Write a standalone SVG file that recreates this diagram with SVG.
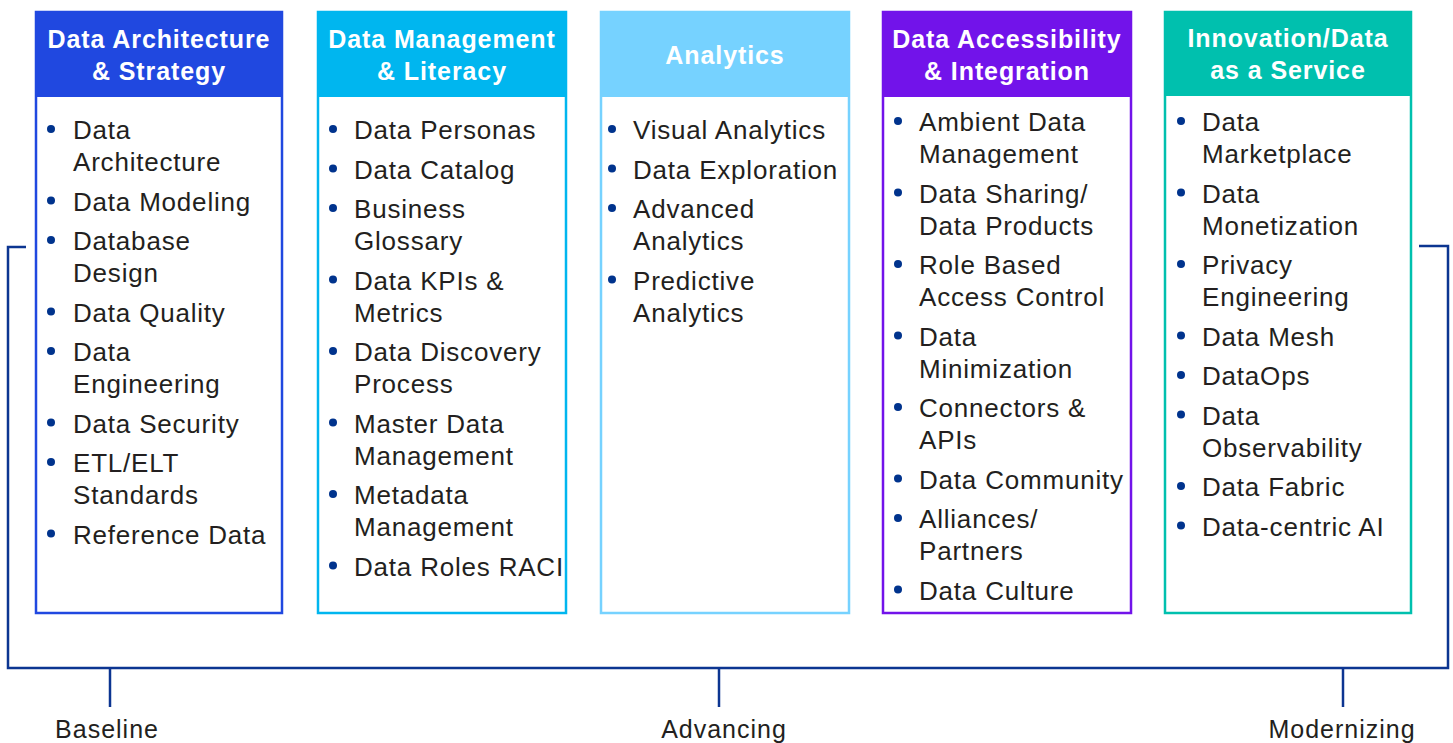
<svg xmlns="http://www.w3.org/2000/svg" width="1453" height="743" viewBox="0 0 1453 743">
  <style>
    .hd { font-family: "Liberation Sans", Arial, sans-serif; font-weight: bold; font-size: 25px; fill: #ffffff; text-anchor: middle; letter-spacing: 0.9px; }
    .it { font-family: "Liberation Sans", Arial, sans-serif; font-size: 26px; fill: #231f20; letter-spacing: 0.8px; }
    .lb { font-family: "Liberation Sans", Arial, sans-serif; font-size: 25px; fill: #231f20; letter-spacing: 1px; text-anchor: middle; }
    .dot { fill: #00338d; }
    .frame { fill: #ffffff; stroke-width: 2.5; }
    .conn { fill: none; stroke: #0c3591; stroke-width: 2.5; }
  </style>
  <rect width="1453" height="743" fill="#ffffff"/>

  <!-- bracket joining the five pillars, with maturity ticks -->
  <g id="connectors" class="conn">
    <path d="M26,247 H8 V668 H1448 V246 H1419"/>
    <line x1="110" y1="668" x2="110" y2="707"/>
    <line x1="719" y1="668" x2="719" y2="707"/>
    <line x1="1343" y1="668" x2="1343" y2="707"/>
  </g>

  <!-- pillar 1 -->
  <g id="architecture-strategy">
    <rect class="frame" x="36" y="12" width="246" height="601" stroke="#2048e0"/>
    <rect x="35" y="11" width="248" height="86" fill="#2048e0"/>
    <text class="hd" x="159" y="48">Data Architecture</text>
    <text class="hd" x="159" y="80">&amp; Strategy</text>
    <g class="dot">
      <circle cx="51" cy="129" r="4"/><circle cx="51" cy="200.5" r="4"/><circle cx="51" cy="240" r="4"/>
      <circle cx="51" cy="311.5" r="4"/><circle cx="51" cy="351" r="4"/><circle cx="51" cy="422.5" r="4"/>
      <circle cx="51" cy="462" r="4"/><circle cx="51" cy="533.5" r="4"/>
    </g>
    <text class="it" x="73" y="139">Data</text>
    <text class="it" x="73" y="171">Architecture</text>
    <text class="it" x="73" y="210.5">Data Modeling</text>
    <text class="it" x="73" y="250">Database</text>
    <text class="it" x="73" y="282">Design</text>
    <text class="it" x="73" y="321.5">Data Quality</text>
    <text class="it" x="73" y="361">Data</text>
    <text class="it" x="73" y="393">Engineering</text>
    <text class="it" x="73" y="432.5">Data Security</text>
    <text class="it" x="73" y="472">ETL/ELT</text>
    <text class="it" x="73" y="504">Standards</text>
    <text class="it" x="73" y="543.5">Reference Data</text>
  </g>

  <!-- pillar 2 -->
  <g id="management-literacy">
    <rect class="frame" x="318" y="12" width="248" height="601" stroke="#00b6ef"/>
    <rect x="317" y="11" width="250" height="86" fill="#00b6ef"/>
    <text class="hd" x="442" y="48">Data Management</text>
    <text class="hd" x="442" y="80">&amp; Literacy</text>
    <g class="dot">
      <circle cx="333" cy="129" r="4"/><circle cx="333" cy="168.5" r="4"/><circle cx="333" cy="208" r="4"/>
      <circle cx="333" cy="279.5" r="4"/><circle cx="333" cy="351" r="4"/><circle cx="333" cy="422.5" r="4"/>
      <circle cx="333" cy="494" r="4"/><circle cx="333" cy="565.5" r="4"/>
    </g>
    <text class="it" x="354" y="139">Data Personas</text>
    <text class="it" x="354" y="178.5">Data Catalog</text>
    <text class="it" x="354" y="218">Business</text>
    <text class="it" x="354" y="250">Glossary</text>
    <text class="it" x="354" y="289.5">Data KPIs &amp;</text>
    <text class="it" x="354" y="321.5">Metrics</text>
    <text class="it" x="354" y="361">Data Discovery</text>
    <text class="it" x="354" y="393">Process</text>
    <text class="it" x="354" y="432.5">Master Data</text>
    <text class="it" x="354" y="464.5">Management</text>
    <text class="it" x="354" y="504">Metadata</text>
    <text class="it" x="354" y="536">Management</text>
    <text class="it" x="354" y="575.5">Data Roles RACI</text>
  </g>

  <!-- pillar 3 -->
  <g id="analytics">
    <rect class="frame" x="601" y="12" width="248" height="601" stroke="#76d2ff"/>
    <rect x="600" y="11" width="250" height="86" fill="#76d2ff"/>
    <text class="hd" x="725" y="64">Analytics</text>
    <g class="dot">
      <circle cx="612" cy="129" r="4"/><circle cx="612" cy="168.5" r="4"/><circle cx="612" cy="208" r="4"/>
      <circle cx="612" cy="279.5" r="4"/>
    </g>
    <text class="it" x="633" y="139">Visual Analytics</text>
    <text class="it" x="633" y="178.5">Data Exploration</text>
    <text class="it" x="633" y="218">Advanced</text>
    <text class="it" x="633" y="250">Analytics</text>
    <text class="it" x="633" y="289.5">Predictive</text>
    <text class="it" x="633" y="321.5">Analytics</text>
  </g>

  <!-- pillar 4 -->
  <g id="accessibility-integration">
    <rect class="frame" x="883" y="12" width="248" height="601" stroke="#7213ea"/>
    <rect x="882" y="11" width="250" height="86" fill="#7213ea"/>
    <text class="hd" x="1007" y="48">Data Accessibility</text>
    <text class="hd" x="1007" y="80">&amp; Integration</text>
    <g class="dot">
      <circle cx="898" cy="121" r="4"/><circle cx="898" cy="192.5" r="4"/><circle cx="898" cy="264" r="4"/>
      <circle cx="898" cy="335.5" r="4"/><circle cx="898" cy="407" r="4"/><circle cx="898" cy="478.5" r="4"/>
      <circle cx="898" cy="518" r="4"/><circle cx="898" cy="589.5" r="4"/>
    </g>
    <text class="it" x="919" y="131">Ambient Data</text>
    <text class="it" x="919" y="163">Management</text>
    <text class="it" x="919" y="202.5">Data Sharing/</text>
    <text class="it" x="919" y="234.5">Data Products</text>
    <text class="it" x="919" y="274">Role Based</text>
    <text class="it" x="919" y="306">Access Control</text>
    <text class="it" x="919" y="345.5">Data</text>
    <text class="it" x="919" y="377.5">Minimization</text>
    <text class="it" x="919" y="417">Connectors &amp;</text>
    <text class="it" x="919" y="449">APIs</text>
    <text class="it" x="919" y="488.5">Data Community</text>
    <text class="it" x="919" y="528">Alliances/</text>
    <text class="it" x="919" y="560">Partners</text>
    <text class="it" x="919" y="599.5">Data Culture</text>
  </g>

  <!-- pillar 5 -->
  <g id="innovation-daas">
    <rect class="frame" x="1165" y="12" width="246" height="601" stroke="#00c0ae"/>
    <rect x="1164" y="11" width="248" height="85" fill="#00c0ae"/>
    <text class="hd" x="1288" y="47">Innovation/Data</text>
    <text class="hd" x="1288" y="79">as a Service</text>
    <g class="dot">
      <circle cx="1181" cy="121" r="4"/><circle cx="1181" cy="192.5" r="4"/><circle cx="1181" cy="264" r="4"/>
      <circle cx="1181" cy="335.5" r="4"/><circle cx="1181" cy="375" r="4"/><circle cx="1181" cy="414.5" r="4"/>
      <circle cx="1181" cy="486" r="4"/><circle cx="1181" cy="525.5" r="4"/>
    </g>
    <text class="it" x="1202" y="131">Data</text>
    <text class="it" x="1202" y="163">Marketplace</text>
    <text class="it" x="1202" y="202.5">Data</text>
    <text class="it" x="1202" y="234.5">Monetization</text>
    <text class="it" x="1202" y="274">Privacy</text>
    <text class="it" x="1202" y="306">Engineering</text>
    <text class="it" x="1202" y="345.5">Data Mesh</text>
    <text class="it" x="1202" y="385">DataOps</text>
    <text class="it" x="1202" y="424.5">Data</text>
    <text class="it" x="1202" y="456.5">Observability</text>
    <text class="it" x="1202" y="496">Data Fabric</text>
    <text class="it" x="1202" y="535.5">Data-centric AI</text>
  </g>

  <!-- maturity stages -->
  <g id="stages">
    <text class="lb" x="107" y="738">Baseline</text>
    <text class="lb" x="724" y="738">Advancing</text>
    <text class="lb" x="1342" y="738">Modernizing</text>
  </g>
</svg>
